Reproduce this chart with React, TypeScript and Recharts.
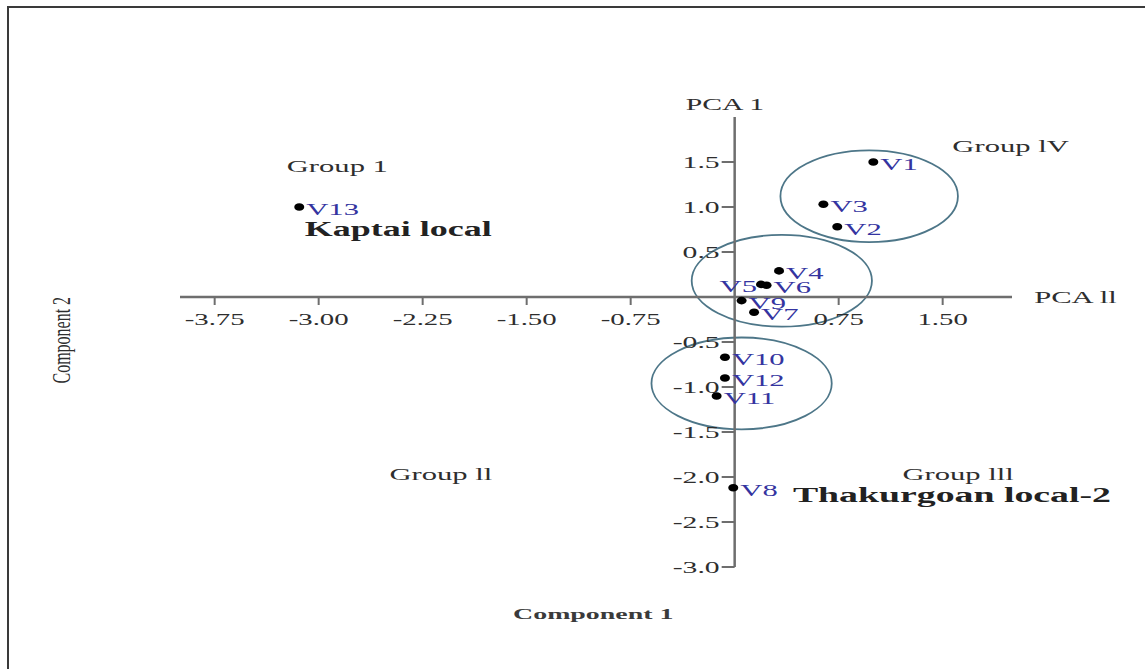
import React from "react";
import { ScatterChart, Scatter, XAxis, YAxis, ReferenceLine, ReferenceDot, ReferenceArea } from "recharts";

// PCA scores
const varieties = ["V1", "V2", "V3", "V4", "V5", "V6", "V7", "V8", "V9", "V10", "V11", "V12", "V13"];
const comp1 = [1.0, 0.74, 0.64, 0.32, 0.19, 0.23, 0.14, -0.01, 0.05, -0.07, -0.13, -0.07, -3.14];
const comp2 = [1.5, 0.78, 1.03, 0.29, 0.14, 0.13, -0.17, -2.12, -0.04, -0.67, -1.1, -0.9, 1.0];

const xTicks = [-3.75, -3.0, -2.25, -1.5, -0.75, 0.75, 1.5];
const yTicks = [1.5, 1.0, 0.5, -0.5, -1.0, -1.5, -2.0, -2.5, -3.0];

// cluster ellipses (centre + radii, in component units)
const clusterX = [0.97, 0.34, 0.05];
const clusterY = [1.12, 0.18, -0.96];
const clusterRx = [0.64, 0.65, 0.65];
const clusterRy = [0.51, 0.51, 0.51];

const points = varieties.map((name, i) => ({ name, x: comp1[i], y: comp2[i] }));

const FONT = "'Liberation Serif', 'Times New Roman', serif";
const SX = 1.8; // source picture is stretched sideways
const AXIS = "#6e6e6e";
const BLUE = "#3434a0";
const RING = "#4d7688";

function Txt({ x, y, children, size = 17, anchor = "start", weight = "normal", fill = "#2e2e2e", rotate = 0, sx = SX }: any) {
  const rot = rotate ? ` rotate(${rotate})` : "";
  return (
    <text transform={`translate(${x},${y}) scale(${sx},1)${rot}`} fontFamily={FONT} fontSize={size}
      fontWeight={weight} fill={fill} textAnchor={anchor}>
      {children}
    </text>
  );
}

const notes = [
  { text: "Group 1", x: -3.23, y: 1.39, size: 17 },
  { text: "Group lV", x: 1.57, y: 1.61, size: 17 },
  { text: "Group ll", x: -2.49, y: -2.03, size: 17 },
  { text: "Group lll", x: 1.21, y: -2.03, size: 17 },
  { text: "Kaptai local", x: -3.1, y: 0.68, size: 20, weight: "bold", fill: "#222" },
  { text: "Thakurgoan local-2", x: 0.42, y: -2.28, size: 21, weight: "bold", fill: "#222" },
];

function PointShape(props: any) {
  const { cx, cy } = props;
  const name = props.payload?.name ?? props.name;
  const left = name === "V5";
  return (
    <g>
      <ellipse cx={cx} cy={cy} rx={5} ry={3.8} fill="#000" />
      <Txt x={left ? cx - 4 : cx + 7} y={cy + 8} anchor={left ? "end" : "start"} fill={BLUE}>{name}</Txt>
    </g>
  );
}

export default function App() {
  return (
    <div style={{ position: "absolute", left: 0, top: 0, width: 1145, height: 669, background: "#fff" }}>
      <div style={{ position: "absolute", left: 7, top: 6, width: 1138, height: 663, borderTop: "2px solid #3a3a3a", borderLeft: "2px solid #3a3a3a" }} />
      <div style={{ position: "absolute", left: 0, top: 0 }}>
        <ScatterChart width={1145} height={669} margin={{ top: 117, right: 133, bottom: 102, left: 180 }}>
          <XAxis type="number" dataKey="x" domain={[-4, 2]} allowDataOverflow hide />
          <YAxis type="number" dataKey="y" domain={[-3, 2]} allowDataOverflow hide />
          {clusterX.map((cx, i) => (
            <ReferenceArea key={"c" + i} x1={cx - clusterRx[i]} x2={cx + clusterRx[i]}
              y1={clusterY[i] - clusterRy[i]} y2={clusterY[i] + clusterRy[i]} ifOverflow="visible"
              shape={(p: any) => (
                <ellipse cx={p.x + p.width / 2} cy={p.y + p.height / 2} rx={Math.abs(p.width) / 2}
                  ry={Math.abs(p.height) / 2} fill="none" stroke={RING} strokeWidth={1.8} />
              )} />
          ))}
          <ReferenceLine y={0} stroke={AXIS} strokeWidth={2.5} />
          <ReferenceLine x={0} stroke={AXIS} strokeWidth={2.5} />
          {xTicks.map(t => (
            <ReferenceDot key={"xt" + t} x={t} y={0} r={0} ifOverflow="visible"
              shape={(p: any) => (
                <g>
                  <line x1={p.cx} y1={p.cy - 1} x2={p.cx} y2={p.cy + 8} stroke={AXIS} strokeWidth={2} />
                  <Txt x={p.cx} y={p.cy + 28} size={16} anchor="middle">{t.toFixed(2)}</Txt>
                </g>
              )} />
          ))}
          {yTicks.map(t => (
            <ReferenceDot key={"yt" + t} x={0} y={t} r={0} ifOverflow="visible"
              shape={(p: any) => (
                <g>
                  <line x1={p.cx - 13} y1={p.cy} x2={p.cx} y2={p.cy} stroke={AXIS} strokeWidth={2} />
                  <Txt x={p.cx - 15} y={p.cy + 6} size={16.5} anchor="end">{t.toFixed(1)}</Txt>
                </g>
              )} />
          ))}
          {notes.map(n => (
            <ReferenceDot key={n.text} x={n.x} y={n.y} r={0} ifOverflow="visible"
              shape={(p: any) => (
                <Txt x={p.cx} y={p.cy} size={n.size} weight={n.weight} fill={n.fill}>{n.text}</Txt>
              )} />
          ))}
          <ReferenceDot x={-0.07} y={2.08} r={0} ifOverflow="visible"
            shape={(p: any) => <Txt x={p.cx} y={p.cy} size={16.5} anchor="middle">PCA 1</Txt>} />
          <ReferenceDot x={2.16} y={-0.07} r={0} ifOverflow="visible"
            shape={(p: any) => <Txt x={p.cx} y={p.cy} size={17}>PCA ll</Txt>} />
          <ReferenceDot x={-1.02} y={-3.58} r={0} ifOverflow="visible"
            shape={(p: any) => <Txt x={p.cx} y={p.cy} size={15.5} anchor="middle" weight="bold" fill="#3a3a3a">Component 1</Txt>} />
          <ReferenceDot x={-4.79} y={-0.48} r={0} ifOverflow="visible"
            shape={(p: any) => <Txt x={p.cx} y={p.cy} size={16} anchor="middle" rotate={-90} sx={1.6}>Component 2</Txt>} />
          <Scatter data={points} isAnimationActive={false} shape={PointShape} />
        </ScatterChart>
      </div>
    </div>
  );
}
